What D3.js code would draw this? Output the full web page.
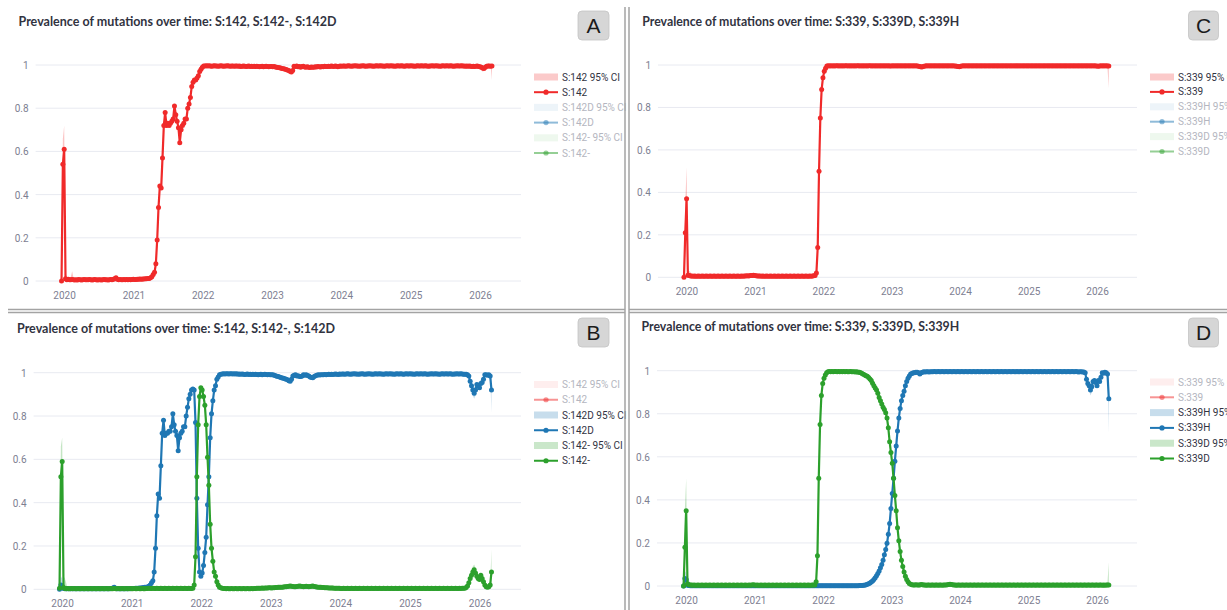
<!DOCTYPE html>
<html>
<head>
<meta charset="utf-8">
<script src="https://cdn.jsdelivr.net/npm/d3@7"></script>
<style>
  html, body { margin: 0; padding: 0; background: #ffffff; }
  svg { display: block; font-family: "Lato", "Noto Sans", sans-serif; }
</style>
</head>
<body>
<svg id="chart" width="1227" height="610"></svg>
<script>
// ---------------- DATA ----------------
// weekly samples, first week starting 2019-12-19
const firstWeek = new Date(2019, 11, 19);
const yearTicks = [2020, 2021, 2022, 2023, 2024, 2025, 2026];
const yTicks = [0, 0.2, 0.4, 0.6, 0.8, 1];

// Panel A: S:142
const s142 = [
0,0.54,0.61,0.01,0.006,0.008,0.006,0.006,0.007,0.006,
0.005,0.006,0.005,0.007,0.006,0.005,0.006,0.007,0.006,0.006,
0.006,0.007,0.006,0.005,0.006,0.007,0.006,0.005,0.006,0.006,
0.005,0.006,0.007,0.006,0.006,0.005,0.006,0.007,0.006,0.008,
0.01,0.015,0.008,0.006,0.007,0.006,0.006,0.007,0.006,0.007,
0.006,0.007,0.006,0.007,0.008,0.007,0.007,0.008,0.008,0.009,
0.008,0.009,0.009,0.01,0.01,0.011,0.012,0.015,0.02,0.03,
0.04,0.08,0.19,0.34,0.44,0.43,0.57,0.72,0.78,0.72,
0.73,0.72,0.73,0.74,0.75,0.81,0.77,0.74,0.71,0.64,
0.70,0.72,0.73,0.75,0.75,0.80,0.82,0.85,0.90,0.92,
0.93,0.93,0.94,0.95,0.97,0.98,0.99,0.995,0.995,0.996,
0.995,0.996,0.995,0.994,0.995,0.996,0.995,0.995,0.994,0.995,
0.996,0.995,0.994,0.995,0.995,0.996,0.995,0.994,0.995,0.995,
0.994,0.995,0.995,0.994,0.995,0.993,0.994,0.995,0.994,0.993,
0.994,0.995,0.993,0.994,0.993,0.994,0.993,0.994,0.993,0.992,
0.993,0.994,0.992,0.993,0.994,0.993,0.992,0.993,0.993,0.992,
0.993,0.991,0.99,0.988,0.987,0.986,0.984,0.983,0.981,0.979,
0.977,0.975,0.971,0.968,0.975,0.994,0.993,0.995,0.992,0.993,
0.99,0.993,0.994,0.991,0.99,0.992,0.99,0.989,0.991,0.99,
0.99,0.992,0.991,0.993,0.992,0.991,0.993,0.992,0.994,0.993,
0.993,0.994,0.993,0.995,0.994,0.993,0.995,0.994,0.992,0.994,
0.995,0.994,0.995,0.995,0.994,0.995,0.996,0.995,0.994,0.995,
0.995,0.996,0.995,0.995,0.994,0.995,0.995,0.996,0.995,0.994,
0.995,0.995,0.996,0.995,0.995,0.994,0.995,0.996,0.995,0.995,
0.996,0.995,0.995,0.994,0.995,0.996,0.995,0.995,0.996,0.995,
0.995,0.994,0.995,0.996,0.995,0.995,0.996,0.995,0.994,0.995,
0.996,0.995,0.995,0.996,0.995,0.995,0.994,0.995,0.996,0.995,
0.995,0.996,0.995,0.995,0.996,0.995,0.994,0.995,0.995,0.996,
0.995,0.995,0.996,0.995,0.995,0.994,0.995,0.996,0.995,0.995,
0.996,0.995,0.995,0.996,0.995,0.994,0.995,0.995,0.996,0.995,
0.995,0.996,0.995,0.995,0.994,0.995,0.994,0.995,0.994,0.993,
0.994,0.993,0.994,0.995,0.993,0.992,0.99,0.986,0.984,0.99,
0.994,0.995,0.995,0.994,0.995];
const s142CI = [[1,0.42,0.66],[2,0.5,0.72],[3,0,0.04],[4,0,0.02],[7,0,0.02],[8,0,0.045],[9,0,0.015],
  [316,0.975,0.998],[317,0.97,0.996],[318,0.972,0.995],[324,0.93,0.998]];

// Panel B: S:142D and S:142-
const s142D = [
0,0.02,0.015,0.004,0.003,0.003,0.002,0.003,0.003,0.002,
0.003,0.002,0.003,0.003,0.002,0.003,0.003,0.002,0.003,0.003,
0.003,0.002,0.003,0.003,0.002,0.003,0.003,0.002,0.003,0.003,
0.002,0.003,0.003,0.002,0.003,0.003,0.002,0.003,0.003,0.004,
0.006,0.01,0.005,0.003,0.003,0.002,0.003,0.003,0.003,0.003,
0.003,0.003,0.004,0.003,0.004,0.004,0.004,0.005,0.005,0.005,
0.006,0.006,0.007,0.008,0.009,0.01,0.011,0.014,0.02,0.03,
0.04,0.08,0.19,0.34,0.44,0.42,0.57,0.72,0.78,0.71,
0.72,0.72,0.73,0.73,0.75,0.81,0.76,0.73,0.71,0.64,
0.70,0.72,0.73,0.75,0.75,0.80,0.84,0.88,0.90,0.92,
0.925,0.92,0.77,0.42,0.19,0.08,0.06,0.075,0.11,0.17,
0.24,0.39,0.52,0.70,0.81,0.87,0.92,0.94,0.97,0.98,
0.99,0.993,0.994,0.995,0.994,0.995,0.995,0.994,0.995,0.995,
0.994,0.995,0.994,0.995,0.993,0.994,0.993,0.994,0.993,0.992,
0.993,0.994,0.992,0.993,0.992,0.993,0.992,0.993,0.992,0.991,
0.992,0.993,0.991,0.992,0.993,0.992,0.991,0.992,0.991,0.99,
0.99,0.988,0.986,0.984,0.982,0.98,0.978,0.976,0.974,0.972,
0.97,0.967,0.963,0.96,0.97,0.985,0.988,0.99,0.985,0.986,
0.983,0.982,0.985,0.99,0.988,0.99,0.987,0.985,0.98,0.978,
0.977,0.982,0.986,0.988,0.99,0.989,0.99,0.991,0.99,0.992,
0.991,0.992,0.993,0.992,0.993,0.992,0.993,0.994,0.993,0.992,
0.994,0.993,0.994,0.994,0.993,0.994,0.995,0.994,0.993,0.994,
0.994,0.995,0.994,0.994,0.993,0.994,0.994,0.995,0.994,0.993,
0.994,0.994,0.995,0.994,0.994,0.993,0.994,0.995,0.994,0.994,
0.995,0.994,0.994,0.993,0.994,0.995,0.994,0.994,0.995,0.994,
0.994,0.993,0.994,0.995,0.994,0.994,0.995,0.994,0.993,0.994,
0.995,0.994,0.994,0.995,0.994,0.994,0.993,0.994,0.995,0.994,
0.994,0.995,0.994,0.994,0.995,0.994,0.993,0.994,0.994,0.995,
0.994,0.994,0.995,0.994,0.994,0.993,0.994,0.995,0.994,0.994,
0.995,0.994,0.994,0.995,0.994,0.993,0.994,0.994,0.995,0.994,
0.994,0.995,0.994,0.993,0.993,0.993,0.99,0.985,0.96,0.94,
0.92,0.905,0.92,0.945,0.94,0.93,0.95,0.955,0.97,0.99,
0.99,0.988,0.99,0.985,0.92];
const s142DCI = [[1,0,0.06],[2,0,0.05],[309,0.92,0.955],[310,0.895,0.94],[311,0.88,0.93],[312,0.895,0.94],[324,0.815,0.985]];

const s142del = [
0.005,0.52,0.59,0.008,0.004,0.003,0.004,0.003,0.003,0.004,
0.003,0.004,0.003,0.003,0.004,0.003,0.003,0.004,0.003,0.003,
0.004,0.003,0.003,0.004,0.003,0.003,0.004,0.003,0.003,0.004,
0.003,0.003,0.004,0.003,0.003,0.004,0.003,0.003,0.004,0.003,
0.003,0.004,0.003,0.003,0.004,0.003,0.003,0.004,0.003,0.003,
0.004,0.003,0.003,0.004,0.003,0.003,0.004,0.003,0.003,0.004,
0.003,0.003,0.004,0.003,0.003,0.004,0.004,0.005,0.004,0.004,
0.005,0.004,0.004,0.005,0.004,0.004,0.005,0.004,0.004,0.005,
0.004,0.004,0.005,0.004,0.004,0.005,0.004,0.004,0.005,0.004,
0.004,0.005,0.004,0.004,0.005,0.004,0.004,0.005,0.004,0.004,
0.005,0.02,0.15,0.52,0.76,0.89,0.93,0.92,0.89,0.85,
0.76,0.61,0.48,0.30,0.19,0.13,0.08,0.06,0.035,0.02,
0.01,0.007,0.005,0.004,0.004,0.003,0.004,0.003,0.003,0.004,
0.003,0.003,0.004,0.003,0.003,0.004,0.003,0.003,0.004,0.003,
0.003,0.004,0.003,0.003,0.004,0.003,0.004,0.004,0.005,0.005,
0.005,0.005,0.006,0.005,0.006,0.006,0.006,0.007,0.007,0.006,
0.007,0.007,0.008,0.008,0.009,0.009,0.01,0.01,0.011,0.012,
0.012,0.013,0.014,0.015,0.014,0.013,0.012,0.012,0.013,0.014,
0.015,0.014,0.013,0.012,0.013,0.014,0.013,0.012,0.013,0.014,
0.015,0.013,0.012,0.011,0.01,0.009,0.009,0.008,0.008,0.007,
0.007,0.007,0.006,0.006,0.006,0.006,0.005,0.005,0.005,0.005,
0.005,0.004,0.004,0.005,0.004,0.004,0.005,0.004,0.004,0.005,
0.004,0.004,0.005,0.004,0.004,0.005,0.004,0.004,0.005,0.004,
0.004,0.005,0.004,0.004,0.005,0.004,0.004,0.005,0.004,0.004,
0.005,0.004,0.004,0.005,0.004,0.004,0.005,0.004,0.004,0.005,
0.004,0.004,0.005,0.004,0.004,0.005,0.004,0.004,0.005,0.004,
0.004,0.005,0.004,0.004,0.005,0.004,0.004,0.005,0.004,0.004,
0.005,0.004,0.004,0.005,0.004,0.004,0.005,0.004,0.004,0.005,
0.004,0.004,0.005,0.004,0.004,0.005,0.004,0.004,0.005,0.004,
0.004,0.005,0.004,0.004,0.005,0.004,0.004,0.005,0.004,0.004,
0.005,0.004,0.005,0.005,0.005,0.008,0.015,0.03,0.05,0.065,
0.08,0.09,0.075,0.06,0.05,0.045,0.065,0.05,0.035,0.02,
0.012,0.01,0.012,0.02,0.08];
const s142delCI = [[1,0.38,0.66],[2,0.46,0.70],[3,0,0.06],[4,0,0.05],[5,0,0.03],
  [309,0.045,0.09],[310,0.06,0.105],[311,0.065,0.115],[312,0.055,0.1],[324,0.03,0.185]];

// Panel C: S:339
const s339 = [
0,0.21,0.37,0.01,0.008,0.006,0.006,0.005,0.006,0.005,
0.005,0.006,0.005,0.005,0.006,0.005,0.005,0.006,0.005,0.005,
0.006,0.005,0.005,0.006,0.005,0.005,0.006,0.005,0.005,0.006,
0.005,0.005,0.006,0.005,0.005,0.006,0.005,0.005,0.006,0.005,
0.005,0.006,0.005,0.005,0.006,0.005,0.006,0.006,0.007,0.006,
0.007,0.008,0.009,0.01,0.008,0.007,0.006,0.006,0.006,0.005,
0.006,0.005,0.005,0.006,0.005,0.005,0.006,0.005,0.005,0.006,
0.005,0.005,0.006,0.005,0.005,0.006,0.005,0.005,0.006,0.005,
0.005,0.006,0.005,0.005,0.006,0.005,0.005,0.006,0.005,0.005,
0.006,0.005,0.005,0.006,0.005,0.005,0.006,0.005,0.006,0.007,
0.008,0.02,0.14,0.50,0.75,0.885,0.94,0.97,0.985,0.995,
0.996,0.995,0.996,0.995,0.996,0.995,0.996,0.996,0.995,0.996,
0.995,0.996,0.995,0.996,0.996,0.995,0.996,0.995,0.996,0.995,
0.996,0.995,0.996,0.996,0.995,0.996,0.995,0.996,0.995,0.996,
0.995,0.996,0.996,0.995,0.996,0.995,0.996,0.995,0.996,0.995,
0.996,0.995,0.996,0.995,0.996,0.995,0.996,0.995,0.995,0.996,
0.995,0.996,0.995,0.996,0.995,0.996,0.995,0.996,0.995,0.996,
0.995,0.996,0.995,0.996,0.995,0.996,0.995,0.996,0.995,0.994,
0.993,0.99,0.992,0.994,0.995,0.996,0.995,0.996,0.995,0.996,
0.995,0.996,0.995,0.996,0.995,0.996,0.995,0.996,0.995,0.996,
0.995,0.996,0.995,0.996,0.995,0.996,0.995,0.995,0.994,0.993,
0.992,0.994,0.995,0.996,0.995,0.996,0.995,0.996,0.995,0.996,
0.995,0.996,0.995,0.996,0.995,0.996,0.995,0.996,0.995,0.996,
0.995,0.996,0.995,0.996,0.995,0.996,0.995,0.996,0.995,0.996,
0.995,0.996,0.995,0.996,0.995,0.996,0.995,0.996,0.995,0.996,
0.995,0.996,0.995,0.996,0.995,0.996,0.995,0.996,0.995,0.996,
0.995,0.996,0.995,0.996,0.995,0.996,0.995,0.996,0.995,0.996,
0.995,0.996,0.995,0.996,0.995,0.996,0.995,0.996,0.995,0.996,
0.995,0.996,0.995,0.996,0.995,0.996,0.995,0.996,0.995,0.996,
0.995,0.996,0.995,0.996,0.995,0.996,0.995,0.996,0.995,0.996,
0.995,0.996,0.995,0.996,0.995,0.996,0.995,0.996,0.995,0.996,
0.995,0.996,0.995,0.996,0.995,0.995,0.994,0.995,0.996,0.995,
0.996,0.995,0.996,0.995,0.995];
const s339CI = [[1,0.1,0.35],[2,0.25,0.52],[3,0,0.04],[4,0,0.03],[5,0,0.025],[323,0.985,0.999],[324,0.89,0.999]];

// Panel D: S:339H and S:339D
const s339H = [
0,0.035,0.03,0.003,0.002,0.001,0.001,0.001,0.001,0.001,
0.001,0.001,0.001,0.001,0.001,0.001,0.001,0.001,0.001,0.001,
0.001,0.001,0.001,0.001,0.001,0.001,0.001,0.001,0.001,0.001,
0.001,0.001,0.001,0.001,0.001,0.001,0.001,0.001,0.001,0.001,
0.001,0.001,0.001,0.001,0.001,0.001,0.001,0.001,0.001,0.001,
0.001,0.001,0.001,0.001,0.001,0.001,0.001,0.001,0.001,0.001,
0.001,0.001,0.001,0.001,0.001,0.001,0.001,0.001,0.001,0.001,
0.001,0.001,0.001,0.001,0.001,0.001,0.001,0.001,0.001,0.001,
0.001,0.001,0.001,0.001,0.001,0.001,0.001,0.001,0.001,0.001,
0.001,0.001,0.001,0.001,0.001,0.001,0.001,0.001,0.001,0.001,
0.001,0.001,0.001,0.001,0.001,0.001,0.001,0.001,0.001,0.001,
0.001,0.001,0.001,0.001,0.001,0.001,0.001,0.001,0.001,0.001,
0.001,0.001,0.001,0.001,0.001,0.001,0.001,0.001,0.001,0.001,
0.001,0.001,0.001,0.001,0.002,0.002,0.002,0.003,0.004,0.006,
0.008,0.011,0.014,0.018,0.023,0.03,0.038,0.048,0.058,0.07,
0.085,0.1,0.12,0.145,0.17,0.198,0.24,0.29,0.36,0.43,
0.5,0.58,0.65,0.72,0.78,0.825,0.86,0.885,0.905,0.93,
0.95,0.965,0.975,0.985,0.987,0.99,0.99,0.993,0.993,0.99,
0.985,0.99,0.993,0.995,0.994,0.995,0.995,0.994,0.995,0.995,
0.995,0.996,0.995,0.995,0.996,0.995,0.995,0.996,0.995,0.995,
0.996,0.995,0.995,0.996,0.995,0.995,0.996,0.995,0.995,0.996,
0.995,0.995,0.996,0.995,0.995,0.996,0.995,0.995,0.996,0.995,
0.995,0.996,0.995,0.995,0.996,0.995,0.995,0.996,0.995,0.995,
0.996,0.995,0.995,0.996,0.995,0.995,0.996,0.995,0.995,0.996,
0.995,0.995,0.996,0.995,0.995,0.996,0.995,0.995,0.996,0.995,
0.995,0.996,0.995,0.995,0.996,0.995,0.995,0.996,0.995,0.995,
0.996,0.995,0.995,0.996,0.995,0.995,0.996,0.995,0.995,0.996,
0.995,0.995,0.996,0.995,0.995,0.996,0.995,0.995,0.996,0.995,
0.995,0.996,0.995,0.995,0.996,0.995,0.995,0.996,0.995,0.995,
0.996,0.995,0.995,0.996,0.995,0.995,0.996,0.995,0.995,0.996,
0.995,0.994,0.995,0.995,0.994,0.994,0.99,0.96,0.94,0.93,
0.91,0.925,0.95,0.955,0.945,0.93,0.955,0.95,0.97,0.99,
0.988,0.993,0.99,0.985,0.87];
const s339HCI = [[1,0,0.07],[2,0,0.06],[3,0,0.03],[309,0.91,0.95],[310,0.885,0.93],[311,0.9,0.945],[324,0.71,0.96]];

const s339D = [
0,0.18,0.35,0.01,0.006,0.005,0.005,0.004,0.005,0.004,
0.004,0.005,0.004,0.004,0.005,0.004,0.004,0.005,0.004,0.004,
0.005,0.004,0.004,0.005,0.004,0.004,0.005,0.004,0.004,0.005,
0.004,0.004,0.005,0.004,0.004,0.005,0.004,0.004,0.005,0.004,
0.004,0.005,0.004,0.004,0.005,0.004,0.004,0.005,0.004,0.004,
0.005,0.004,0.005,0.006,0.005,0.004,0.005,0.004,0.004,0.005,
0.004,0.004,0.005,0.004,0.004,0.005,0.004,0.004,0.005,0.004,
0.004,0.005,0.004,0.004,0.005,0.004,0.004,0.005,0.004,0.004,
0.005,0.004,0.004,0.005,0.004,0.004,0.005,0.004,0.004,0.005,
0.004,0.004,0.005,0.004,0.004,0.005,0.004,0.004,0.005,0.005,
0.005,0.02,0.14,0.50,0.75,0.885,0.94,0.965,0.98,0.99,
0.995,0.996,0.995,0.996,0.995,0.996,0.996,0.995,0.996,0.995,
0.996,0.995,0.996,0.995,0.996,0.995,0.995,0.996,0.995,0.995,
0.995,0.994,0.995,0.993,0.993,0.99,0.987,0.984,0.98,0.977,
0.974,0.968,0.962,0.955,0.942,0.93,0.92,0.91,0.895,0.875,
0.86,0.845,0.83,0.82,0.805,0.78,0.735,0.67,0.62,0.57,
0.50,0.42,0.35,0.27,0.21,0.16,0.12,0.09,0.065,0.045,
0.03,0.02,0.012,0.008,0.006,0.005,0.005,0.006,0.005,0.005,
0.005,0.007,0.006,0.005,0.005,0.004,0.005,0.005,0.004,0.005,
0.005,0.004,0.005,0.005,0.004,0.005,0.005,0.004,0.005,0.005,
0.005,0.006,0.007,0.008,0.007,0.006,0.005,0.005,0.004,0.005,
0.005,0.004,0.005,0.005,0.004,0.005,0.005,0.004,0.005,0.005,
0.004,0.005,0.005,0.004,0.005,0.005,0.004,0.005,0.005,0.004,
0.005,0.005,0.004,0.005,0.005,0.004,0.005,0.005,0.004,0.005,
0.005,0.004,0.005,0.005,0.004,0.005,0.005,0.004,0.005,0.005,
0.004,0.005,0.005,0.004,0.005,0.005,0.004,0.005,0.005,0.004,
0.005,0.005,0.004,0.005,0.005,0.004,0.005,0.005,0.004,0.005,
0.005,0.004,0.005,0.005,0.004,0.005,0.005,0.004,0.005,0.005,
0.004,0.005,0.005,0.004,0.005,0.005,0.004,0.005,0.005,0.004,
0.005,0.005,0.004,0.005,0.005,0.004,0.005,0.005,0.004,0.005,
0.005,0.004,0.005,0.005,0.004,0.005,0.005,0.004,0.005,0.005,
0.004,0.005,0.005,0.004,0.005,0.005,0.004,0.005,0.005,0.004,
0.005,0.004,0.005,0.005,0.005];
const s339DCI = [[1,0.08,0.36],[2,0.22,0.5],[3,0,0.04],[4,0,0.03],[323,0,0.02],[324,0,0.11]];

// legend names
const namesA = ["S:142", "S:142D", "S:142-"];
const namesC = ["S:339", "S:339H", "S:339D"];

// ---------------- STYLE / LAYOUT ----------------
const RED = "#f02a2a", BLUE = "#1f77b4", GREEN = "#2ca02c";
const colors = [RED, BLUE, GREEN];
const NARROW = "'Liberation Sans Narrow', 'Roboto', 'Lato', sans-serif";

const panels = [
  { letter: "A", names: namesA, series: [s142, null, null], cis: [s142CI, null, null], active: [true, false, false],
    x2020: 64, x2026: 480, y1: 65, y0: 281, gx0: 35.6, gx1: 521, xLabY: 295,
    titleX: 18.5, titleY: 25.6, titleW: 318, box: [578, 11, 31, 29],
    legX: 534, legY: 77, legDy: 15.2 },
  { letter: "B", names: namesA, series: [null, s142D, s142del], cis: [null, s142DCI, s142delCI], active: [false, true, true],
    x2020: 62, x2026: 479.5, y1: 372.7, y0: 589.3, gx0: 33.6, gx1: 521, xLabY: 603,
    titleX: 17, titleY: 332.8, titleW: 318, box: [578, 318, 31, 29],
    legX: 534, legY: 384.5, legDy: 15.25 },
  { letter: "C", names: namesC, series: [s339, null, null], cis: [s339CI, null, null], active: [true, false, false],
    x2020: 686.4, x2026: 1097, y1: 65, y0: 277.3, gx0: 658, gx1: 1137, xLabY: 291,
    titleX: 642.3, titleY: 26, titleW: 317, box: [1188.5, 11, 30, 29],
    legX: 1150, legY: 77, legDy: 14.9 },
  { letter: "D", names: namesC, series: [null, s339H, s339D], cis: [null, s339HCI, s339DCI], active: [false, true, true],
    x2020: 686, x2026: 1097, y1: 370.7, y0: 586, gx0: 657, gx1: 1137, xLabY: 600,
    titleX: 641.5, titleY: 330.6, titleW: 317.7, box: [1188.5, 318, 30, 29],
    legX: 1150, legY: 382, legDy: 15.3 }
];

const titleFor = p => "Prevalence of mutations over time: " +
  (p.names === namesA ? "S:142, S:142-, S:142D" : "S:339, S:339D, S:339H");

// ---------------- DRAW ----------------
const svg = d3.select("#chart");
svg.append("rect").attr("width", 1227).attr("height", 610).attr("fill", "#fff");

const weekDate = i => d3.timeDay.offset(firstWeek, 7 * i);

panels.forEach(p => {
  const g = svg.append("g");
  const x = d3.scaleTime()
    .domain([new Date(2020, 0, 1), new Date(2026, 0, 1)])
    .range([p.x2020, p.x2026]);
  const y = d3.scaleLinear().domain([0, 1]).range([p.y0, p.y1]);

  // grid
  g.append("g").selectAll("line").data(yTicks).join("line")
    .attr("x1", p.gx0).attr("x2", p.gx1)
    .attr("y1", d => y(d)).attr("y2", d => y(d))
    .attr("stroke", "#e8eaf1").attr("stroke-width", 1);

  // y axis labels
  const ya = g.append("g").attr("transform", `translate(${p.gx0 - 7},0)`)
    .call(d3.axisLeft(y).tickValues(yTicks).tickSize(0).tickPadding(0)
      .tickFormat(d => d === 0 ? "0" : d === 1 ? "1" : d3.format(".1f")(d)));
  ya.select(".domain").remove();
  ya.selectAll("text").attr("font-size", 10).attr("font-family", NARROW)
    .attr("fill", "#7d8092").attr("dy", "0.35em");

  // x axis labels
  const xa = g.append("g").attr("transform", `translate(0,${p.xLabY})`)
    .call(d3.axisBottom(x).tickValues(yearTicks.map(yr => new Date(yr, 0, 1)))
      .tickSize(0).tickPadding(0).tickFormat(d3.timeFormat("%Y")));
  xa.select(".domain").remove();
  xa.selectAll("text").attr("font-size", 10).attr("font-family", NARROW)
    .attr("fill", "#7d8092").attr("dy", "0.35em");

  // traces (in legend order)
  const clipId = "clip" + p.letter;
  svg.append("clipPath").attr("id", clipId).append("rect")
    .attr("x", p.gx0 - 5).attr("y", p.y1 - 8).attr("width", p.gx1 - p.gx0 + 10).attr("height", p.y0 - p.y1 + 16);
  const tg = g.append("g").attr("clip-path", `url(#${clipId})`);

  p.series.forEach((vals, k) => {
    if (!p.active[k] || !vals) return;
    const col = colors[k];
    const ciMap = new Map(p.cis[k].map(c => [c[0], c]));
    const pts = vals.map((v, i) => {
      const c = ciMap.get(i);
      return { d: weekDate(i), v: v, lo: c ? c[1] : v, hi: c ? c[2] : v };
    });
    tg.append("path").datum(pts)
      .attr("d", d3.area().x(d => x(d.d)).y0(d => y(d.lo)).y1(d => y(d.hi)))
      .attr("fill", col).attr("fill-opacity", 0.28).attr("stroke", "none");
    tg.append("path").datum(pts)
      .attr("d", d3.line().x(d => x(d.d)).y(d => y(d.v)))
      .attr("fill", "none").attr("stroke", col).attr("stroke-width", 2.2)
      .attr("stroke-linejoin", "round");
    tg.append("g").selectAll("circle").data(pts).join("circle")
      .attr("cx", d => x(d.d)).attr("cy", d => y(d.v)).attr("r", 2.5)
      .attr("fill", col);
  });

  // legend
  const lg = g.append("g").attr("font-family", NARROW);
  p.names.forEach((nm, k) => {
    const on = p.active[k];
    const col = colors[k];
    const yb = p.legY + p.legDy * (2 * k);
    const yl = p.legY + p.legDy * (2 * k + 1);
    lg.append("rect").attr("x", p.legX).attr("y", yb - 3.5).attr("width", 24).attr("height", 7)
      .attr("fill", col).attr("fill-opacity", on ? 0.25 : 0.08);
    lg.append("text").attr("x", p.legX + 28).attr("y", yb).attr("dy", "0.35em")
      .attr("font-size", 10).attr("fill", on ? "#31333f" : "#b4b6c0").text(nm + " 95% CI");
    lg.append("line").attr("x1", p.legX).attr("x2", p.legX + 24).attr("y1", yl).attr("y2", yl)
      .attr("stroke", col).attr("stroke-width", 2).attr("stroke-opacity", on ? 1 : 0.5);
    lg.append("circle").attr("cx", p.legX + 12).attr("cy", yl).attr("r", 2.6)
      .attr("fill", col).attr("fill-opacity", on ? 1 : 0.5);
    lg.append("text").attr("x", p.legX + 28).attr("y", yl).attr("dy", "0.35em")
      .attr("font-size", 10).attr("fill", on ? "#31333f" : "#b4b6c0").text(nm);
  });

  // title
  g.append("text").attr("x", p.titleX).attr("y", p.titleY)
    .attr("font-size", 13.5).attr("font-weight", 700).attr("fill", "#31333f")
    .attr("textLength", p.titleW).attr("lengthAdjust", "spacingAndGlyphs")
    .text(titleFor(p));

  // panel letter box
  const [bx, by, bw, bh] = p.box;
  g.append("rect").attr("x", bx).attr("y", by).attr("width", bw).attr("height", bh)
    .attr("rx", 4).attr("fill", "#d6d6d6").attr("stroke", "#c4c4c4").attr("stroke-width", 0.8);
  g.append("text").attr("x", bx + bw / 2).attr("y", by + bh / 2).attr("dy", "0.36em")
    .attr("text-anchor", "middle").attr("font-family", "Liberation Sans, Arial, sans-serif")
    .attr("font-size", 21).attr("fill", "#1b1b1b").text(p.letter);
});

// panel separators (double grey frame lines)
const sep = svg.append("g").attr("stroke", "#a3a3a3").attr("stroke-width", 1.5).attr("fill", "none");
sep.append("line").attr("x1", 8).attr("x2", 625).attr("y1", 309.5).attr("y2", 309.5);
sep.append("line").attr("x1", 8).attr("x2", 625).attr("y1", 312.5).attr("y2", 312.5);
sep.append("line").attr("x1", 629).attr("x2", 1227).attr("y1", 309.5).attr("y2", 309.5);
sep.append("line").attr("x1", 629).attr("x2", 1227).attr("y1", 312.5).attr("y2", 312.5);
sep.append("line").attr("x1", 625).attr("x2", 625).attr("y1", 7).attr("y2", 610);
sep.append("line").attr("x1", 629).attr("x2", 629).attr("y1", 7).attr("y2", 610);
</script>
</body>
</html>
